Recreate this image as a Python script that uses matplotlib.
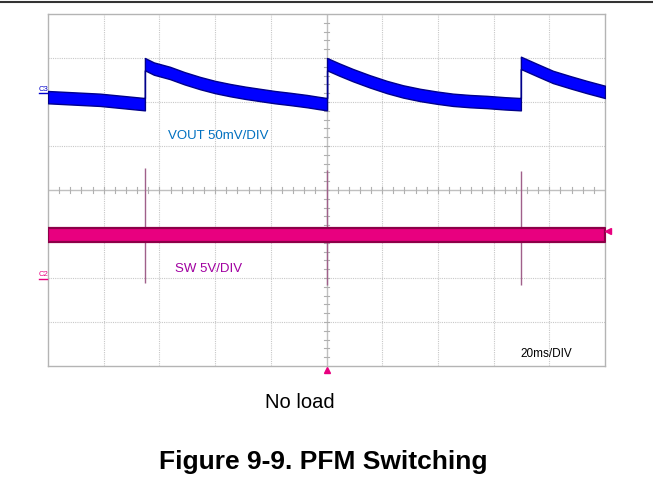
import numpy as np
import matplotlib
matplotlib.use("Agg")
import matplotlib.pyplot as plt
from matplotlib.lines import Line2D

plt.rcParams['font.family'] = ['Liberation Sans', 'DejaVu Sans']

# VOUT trace (time in ms, level in divisions from screen centre, 50 mV/div)
vout_t = [0.0, 18.7, 34.8,
          34.8, 38.0, 43.8, 49.0, 54.6, 60.0, 65.4, 70.8, 76.1, 81.5, 86.9, 93.0, 97.0, 100.2,
          100.2, 104.5, 109.5, 115.5, 121.7, 127.5, 133.6, 139.5, 145.4, 151.5, 157.6, 164.0, 169.8,
          169.8, 175.5, 181.3, 187.5, 193.5, 200.0]
vout_div = [2.11, 2.05, 1.95,
            2.86, 2.76, 2.66, 2.54, 2.43, 2.34, 2.27, 2.21, 2.16, 2.11, 2.07, 2.02, 1.98, 1.95,
            2.86, 2.74, 2.61, 2.47, 2.34, 2.24, 2.16, 2.10, 2.05, 2.02, 2.00, 1.97, 1.95,
            2.89, 2.73, 2.57, 2.45, 2.34, 2.23]

# SW trace (5 V/div)
sw_t = [0.0, 200.0]
sw_div = [-1.02, -1.02]
pulse_t = [34.8, 100.2, 169.8]
spike_top = [0.50, 0.45, 0.43]
spike_bot = [-2.12, -2.16, -2.16]

W, H = 653, 483
fig = plt.figure(figsize=(W / 100, H / 100), dpi=100)
ax = fig.add_axes([48 / W, 1 - 366 / H, 557 / W, 352 / H])
ax.set_xlim(0, 200)
ax.set_ylim(-4, 4)
ax.set_xticks([])
ax.set_yticks([])
for s in ax.spines.values():
    s.set_color('#b4b4b4')
    s.set_linewidth(1.0)

# graticule
for x in range(20, 200, 20):
    if x != 100:
        ax.axvline(x, color='#c8c8c8', lw=0.8, ls=(0, (1, 1)), zorder=1)
for y in range(-3, 4):
    if y != 0:
        ax.axhline(y, color='#c8c8c8', lw=0.8, ls=(0, (1, 1)), zorder=1)
ax.axvline(100, color='#c0c0c0', lw=1.0, zorder=1)
ax.axhline(0, color='#c0c0c0', lw=1.0, zorder=1)
for x in np.arange(4, 200, 4):
    ax.plot([x, x], [-0.07, 0.07], color='#b0b0b0', lw=0.8, zorder=1)
for y in np.arange(-3.8, 4, 0.2):
    ax.plot([99.1, 100.9], [y, y], color='#b0b0b0', lw=0.8, zorder=1)

# VOUT band
h = 0.14
v = np.array(vout_div)
ax.fill_between(vout_t, v - h, v + h, facecolor='#0000ff', edgecolor='#00008b',
                lw=1.0, zorder=3)

# SW band and switching spikes
ax.vlines(pulse_t, spike_bot, spike_top, color='#a0608a', lw=1.0, zorder=2)
sw = np.array(sw_div)
ax.fill_between(sw_t, sw - 0.16, sw + 0.16, facecolor='#e8007f', edgecolor='#8c0048',
                lw=1.6, zorder=3)

# trigger markers
ax.plot([100.2], [-4.09], marker='^', color='#e8007f', ms=5, clip_on=False, zorder=5)
ax.plot([201.2], [-0.93], marker='<', color='#e8007f', ms=5, clip_on=False, zorder=5)

# channel labels
ax.text(43.1, 1.16, 'VOUT 50mV/DIV', color='#0070c0', fontsize=9.5, zorder=6)
ax.text(45.6, -1.86, 'SW 5V/DIV', color='#a000a0', fontsize=9.5, zorder=6)
ax.text(169.5, -3.8, '20ms/DIV', color='black', fontsize=8.5, zorder=6)

fig.text(39 / W, 1 - 91 / H, 'C3', color='#0000cc', fontsize=5.5)
fig.add_artist(Line2D([39 / W, 47 / W], [1 - 93 / H, 1 - 93 / H], color='#0000cc', lw=1.0))
fig.text(39 / W, 1 - 276 / H, 'C2', color='#e8007f', fontsize=5.5)
fig.add_artist(Line2D([39 / W, 47 / W], [1 - 279 / H, 1 - 279 / H], color='#e8007f', lw=1.0))

# page decorations
fig.add_artist(Line2D([0, 1], [1 - 1.5 / H, 1 - 1.5 / H], color='#333333', lw=1.5))
fig.text(300 / W, 1 - 408 / H, 'No load', ha='center', va='baseline', fontsize=14.5)
fig.text(323 / W, 1 - 469 / H, 'Figure 9-9. PFM Switching', ha='center', va='baseline',
         fontsize=19, fontweight='bold')

fig.savefig('out.png', dpi=100)
